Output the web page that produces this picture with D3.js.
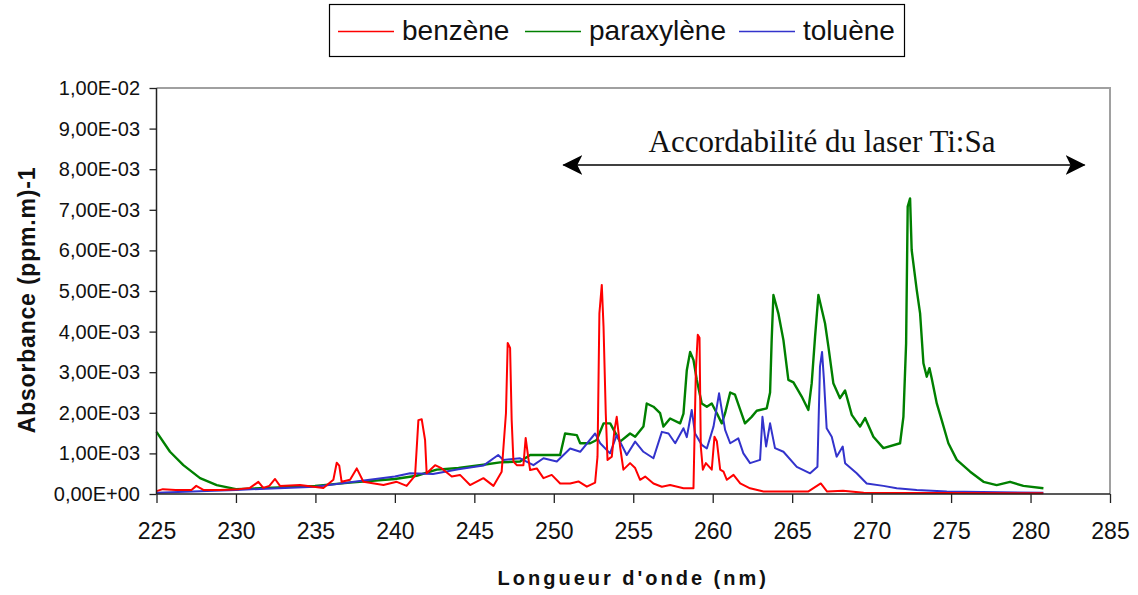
<!DOCTYPE html>
<html>
<head>
<meta charset="utf-8">
<script src="https://cdn.jsdelivr.net/npm/d3@7"></script>
<style>
  body { margin: 0; background: #fff; }
  svg { display: block; font-family: "Liberation Sans", Arial, sans-serif; }
</style>
</head>
<body>
<div id="chart"></div>
<script>
// absorbance values in units of 1e-3 (ppm.m)-1, wavelength in nm
var benzene = [
    [225.0, 0.07], [225.4, 0.12], [226.2, 0.1], [227.2, 0.1], [227.5, 0.2], [227.95, 0.1],
    [229.0, 0.1], [230.2, 0.12], [230.88, 0.15], [231.41, 0.3], [231.72, 0.15], [232.1, 0.2],
    [232.46, 0.37], [232.77, 0.2], [234.03, 0.22], [235.5, 0.15], [236.13, 0.35], [236.34, 0.77],
    [236.5, 0.7], [236.65, 0.3], [237.18, 0.35], [237.6, 0.63], [238.02, 0.3], [239.28, 0.22],
    [240.12, 0.3], [240.74, 0.2], [241.27, 0.45], [241.48, 1.82], [241.69, 1.84], [241.9, 1.33],
    [242.0, 0.51], [242.53, 0.71], [242.95, 0.63], [243.58, 0.43], [244.1, 0.47], [244.73, 0.22],
    [245.57, 0.39], [246.2, 0.2], [246.72, 0.55], [246.99, 1.99], [247.1, 3.72], [247.25, 3.6],
    [247.35, 1.82], [247.46, 0.8], [247.67, 0.71], [248.09, 0.71], [248.23, 1.38], [248.4, 0.88],
    [248.51, 0.59], [248.93, 0.63], [249.35, 0.39], [249.87, 0.47], [250.4, 0.26], [251.03, 0.26],
    [251.55, 0.31], [252.08, 0.18], [252.6, 0.28], [252.75, 0.92], [252.87, 4.45], [253.02, 5.15],
    [253.13, 4.12], [253.27, 1.99], [253.38, 0.84], [253.65, 0.92], [253.82, 1.58], [253.96, 1.9],
    [254.17, 1.17], [254.38, 0.6], [254.8, 0.76], [255.12, 0.64], [255.43, 0.35], [255.75, 0.43],
    [256.27, 0.26], [256.8, 0.18], [257.32, 0.22], [258.16, 0.14], [258.79, 0.14], [258.94, 3.05],
    [259.06, 3.92], [259.17, 3.85], [259.25, 1.17], [259.38, 0.6], [259.57, 0.76], [259.94, 0.6],
    [260.11, 1.41], [260.26, 1.3], [260.47, 0.6], [260.68, 0.55], [260.89, 0.35], [261.31, 0.47],
    [261.73, 0.26], [262.35, 0.14], [263.2, 0.06], [266.0, 0.06], [266.8, 0.26], [267.2, 0.06],
    [268.2, 0.08], [269.5, 0.03], [280.8, 0.02]
];

var paraxylene = [
    [225.0, 1.53], [225.85, 1.04], [226.69, 0.71], [227.74, 0.39], [228.79, 0.22], [230.0, 0.12],
    [231.93, 0.15], [234.98, 0.2], [237.18, 0.28], [240.0, 0.37], [241.37, 0.45], [242.63, 0.6],
    [244.0, 0.64], [245.57, 0.72], [246.62, 0.78], [247.88, 0.8], [248.51, 0.96], [250.4, 0.96],
    [250.71, 1.49], [251.45, 1.45], [251.66, 1.25], [252.29, 1.25], [252.7, 1.33], [253.13, 1.74],
    [253.55, 1.74], [254.17, 1.29], [254.8, 1.49], [255.12, 1.41], [255.64, 1.66], [255.85, 2.23],
    [256.27, 2.15], [256.69, 1.99], [256.9, 1.66], [257.32, 1.86], [257.95, 1.74], [258.16, 1.98],
    [258.37, 3.05], [258.58, 3.5], [258.79, 3.3], [259.0, 2.81], [259.31, 2.23], [259.63, 2.15],
    [259.94, 2.23], [260.26, 1.99], [260.57, 1.74], [260.78, 1.99], [261.1, 2.5], [261.4, 2.45],
    [262.03, 1.74], [262.45, 1.9], [262.77, 2.05], [263.4, 2.11], [263.61, 2.5], [263.71, 3.79],
    [263.82, 4.9], [264.13, 4.45], [264.45, 3.79], [264.76, 2.81], [265.08, 2.75], [265.6, 2.4],
    [266.02, 2.07], [266.23, 2.73], [266.44, 3.87], [266.65, 4.9], [267.07, 4.2], [267.28, 3.63],
    [267.59, 2.73], [268.01, 2.36], [268.33, 2.55], [268.75, 1.95], [269.27, 1.66], [269.59, 1.87],
    [270.11, 1.41], [270.74, 1.13], [271.79, 1.25], [272.0, 1.9], [272.17, 3.71], [272.27, 7.08],
    [272.42, 7.28], [272.52, 6.01], [272.84, 5.02], [273.05, 4.45], [273.26, 3.22], [273.47, 2.89],
    [273.64, 3.1], [273.78, 2.85], [274.1, 2.23], [274.41, 1.82], [274.83, 1.25], [275.36, 0.84],
    [276.2, 0.55], [277.04, 0.3], [277.87, 0.22], [278.71, 0.3], [279.55, 0.2], [280.81, 0.14]
];

var toluene = [
    [225.0, 0.03], [230.0, 0.1], [235.0, 0.18], [240.0, 0.43], [240.96, 0.51], [242.4, 0.49],
    [244.0, 0.61], [245.57, 0.7], [246.5, 0.96], [246.83, 0.84], [247.88, 0.88], [248.72, 0.71],
    [249.35, 0.88], [250.19, 0.8], [251.03, 1.12], [251.66, 1.04], [252.6, 1.49], [252.92, 1.25],
    [253.54, 1.0], [253.96, 1.45], [254.59, 0.96], [255.12, 1.29], [255.64, 1.04], [256.27, 0.88],
    [256.8, 1.53], [257.22, 1.49], [257.64, 1.25], [258.16, 1.62], [258.37, 1.4], [258.68, 2.07],
    [258.89, 1.49], [259.31, 1.21], [259.63, 1.12], [260.05, 1.66], [260.4, 2.48], [260.57, 2.07],
    [260.78, 1.58], [261.1, 1.25], [261.61, 1.37], [261.93, 1.0], [262.35, 0.76], [262.98, 0.84],
    [263.13, 1.9], [263.36, 1.17], [263.61, 1.74], [263.92, 1.13], [264.45, 1.04], [265.29, 0.67],
    [266.13, 0.51], [266.59, 0.67], [266.75, 3.14], [266.88, 3.5], [267.0, 2.81], [267.17, 1.62],
    [267.49, 1.41], [267.8, 0.92], [268.18, 1.17], [268.33, 0.76], [269.06, 0.51], [269.69, 0.26],
    [270.74, 0.2], [271.58, 0.14], [272.84, 0.1], [274.73, 0.06], [280.81, 0.03]
];

var seriesNames = ["benzène", "paraxylène", "toluène"];
var xTicks = [225, 230, 235, 240, 245, 250, 255, 260, 265, 270, 275, 280, 285];
var yTicks = [0, 1, 2, 3, 4, 5, 6, 7, 8, 9, 10];
var laserRange = [250.6, 283.4];

var series = [
    { name: seriesNames[0], values: benzene, color: "#ff0000", width: 2 },
    { name: seriesNames[1], values: paraxylene, color: "#008000", width: 2.4 },
    { name: seriesNames[2], values: toluene, color: "#3333cc", width: 2 }
];

var W = 1138, H = 595;
var plot = { left: 156.5, right: 1110, top: 88, bottom: 494 };

var svg = d3.select("#chart").append("svg").attr("width", W).attr("height", H);

var x = d3.scaleLinear().domain([225, 285]).range([plot.left, plot.right]);
var y = d3.scaleLinear().domain([0, 10]).range([plot.bottom, plot.top]);

function sciLabel(v) {
    var s = d3.format(".2e")(v * 1e-3);
    var parts = s.split("e");
    var exp = parseInt(parts[1], 10);
    var sign = exp < 0 ? "-" : "+";
    var e = Math.abs(exp);
    return parts[0].replace(".", ",") + "E" + sign + (e < 10 ? "0" + e : e);
}

// plot frame (gray top and right)
svg.append("path")
    .attr("d", "M" + plot.left + "," + plot.top + "H" + plot.right + "V" + plot.bottom)
    .attr("fill", "none")
    .attr("stroke", "#a0a0a0")
    .attr("stroke-width", 2);

// series
var line = d3.line()
    .x(function (d) { return x(d[0]); })
    .y(function (d) { return y(d[1]); });

// green first, then blue, then red on top
[series[1], series[2], series[0]].forEach(function (s) {
    svg.append("path")
        .datum(s.values)
        .attr("d", line)
        .attr("fill", "none")
        .attr("stroke", s.color)
        .attr("stroke-width", s.width)
        .attr("stroke-linejoin", "round");
});

// axes
var yAxis = svg.append("g")
    .attr("transform", "translate(" + plot.left + ",0)")
    .call(d3.axisLeft(y).tickValues(yTicks).tickFormat(sciLabel).tickSize(7).tickPadding(9.5));
yAxis.select(".domain").remove();
yAxis.selectAll(".tick line").attr("stroke", "#222").attr("stroke-width", 1.3);
yAxis.selectAll(".tick text")
    .attr("fill", "#111")
    .style("font-size", "20px")
    .style("font-family", "'Liberation Sans', Arial, sans-serif");

var xAxis = svg.append("g")
    .attr("transform", "translate(0," + plot.bottom + ")")
    .call(d3.axisBottom(x).tickValues(xTicks).tickFormat(d3.format("d")).tickSize(9).tickPadding(20));
xAxis.select(".domain").remove();
xAxis.selectAll(".tick line").attr("stroke", "#222").attr("stroke-width", 1.3);
xAxis.selectAll(".tick text")
    .attr("fill", "#111")
    .style("font-size", "23px")
    .style("font-family", "'Liberation Sans', Arial, sans-serif");

svg.append("line")
    .attr("x1", plot.left).attr("x2", plot.left)
    .attr("y1", plot.top).attr("y2", plot.bottom)
    .attr("stroke", "#222").attr("stroke-width", 1.5);
svg.append("line")
    .attr("x1", plot.left).attr("x2", plot.right)
    .attr("y1", plot.bottom).attr("y2", plot.bottom)
    .attr("stroke", "#222").attr("stroke-width", 1.5);

// axis titles
svg.append("text")
    .attr("text-anchor", "middle")
    .attr("transform", "translate(35,300) rotate(-90)")
    .style("font-size", "23px")
    .style("font-weight", "bold")
    .style("letter-spacing", "0.8px")
    .attr("fill", "#111")
    .text("Absorbance (ppm.m)-1");

svg.append("text")
    .attr("text-anchor", "middle")
    .attr("x", (plot.left + plot.right) / 2)
    .attr("y", 585)
    .style("font-size", "20px")
    .style("font-weight", "bold")
    .style("letter-spacing", "3px")
    .attr("fill", "#111")
    .text("Longueur d'onde (nm)");

// tunability annotation
var defs = svg.append("defs");
defs.append("marker")
    .attr("id", "head")
    .attr("viewBox", "0 0 20 20")
    .attr("refX", 19).attr("refY", 10)
    .attr("markerWidth", 20).attr("markerHeight", 20)
    .attr("markerUnits", "userSpaceOnUse")
    .attr("orient", "auto-start-reverse")
    .append("path")
    .attr("d", "M0,0 L20,10 L0,20 L5,10 Z")
    .attr("fill", "#000");

svg.append("line")
    .attr("x1", x(laserRange[0])).attr("x2", x(laserRange[1]))
    .attr("y1", 165).attr("y2", 165)
    .attr("stroke", "#000").attr("stroke-width", 1.5)
    .attr("marker-start", "url(#head)")
    .attr("marker-end", "url(#head)");

svg.append("text")
    .attr("text-anchor", "middle")
    .attr("x", 822)
    .attr("y", 152)
    .style("font-family", "'Liberation Serif', 'Times New Roman', serif")
    .style("font-size", "31px")
    .attr("fill", "#111")
    .text("Accordabilité du laser Ti:Sa");

// legend
var legend = svg.append("g");
legend.append("rect")
    .attr("x", 329.5).attr("y", 4.5)
    .attr("width", 575).attr("height", 52)
    .attr("fill", "#fff").attr("stroke", "#000").attr("stroke-width", 1.2);

var legendPos = [338, 525, 739];
series.forEach(function (s, i) {
    legend.append("line")
        .attr("x1", legendPos[i]).attr("x2", legendPos[i] + 56)
        .attr("y1", 31.5).attr("y2", 31.5)
        .attr("stroke", s.color).attr("stroke-width", 1.6);
    legend.append("text")
        .attr("x", legendPos[i] + 64)
        .attr("y", 40)
        .style("font-size", "28px")
        .attr("fill", "#111")
        .text(s.name);
});
</script>
</body>
</html>
